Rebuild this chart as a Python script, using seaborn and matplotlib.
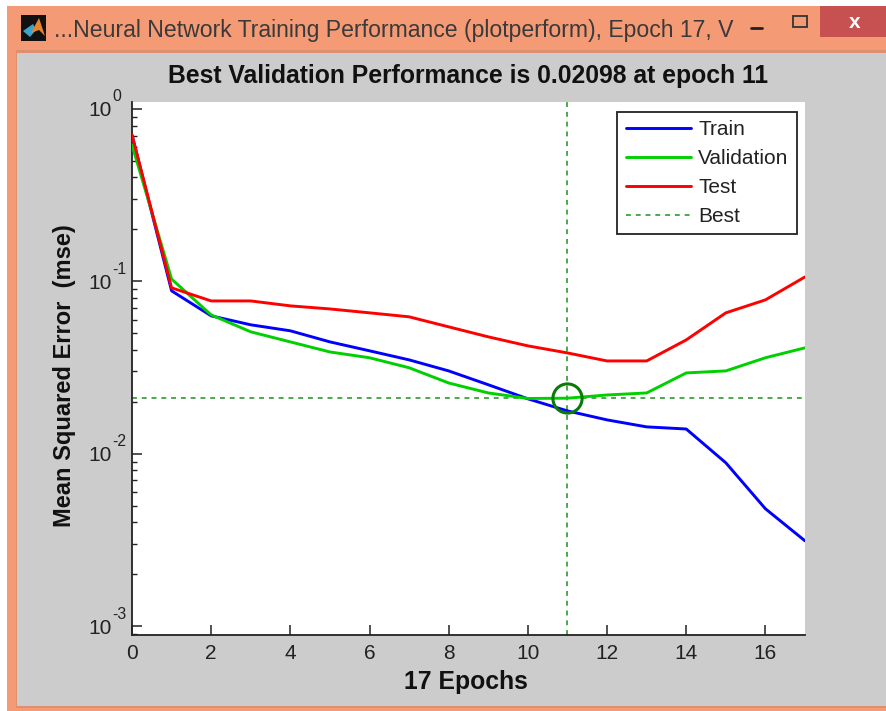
import matplotlib
matplotlib.use("Agg")
import matplotlib.pyplot as plt
from matplotlib.lines import Line2D
from matplotlib.patches import Rectangle, Polygon
from matplotlib.ticker import FixedLocator, LogLocator, NullFormatter
import pandas as pd
import seaborn as sns

epochs = list(range(18))
train = [0.706, 0.088, 0.063, 0.0559, 0.0516, 0.0445, 0.0395, 0.035, 0.0302, 0.0251,
         0.0208, 0.0177, 0.0157, 0.0143, 0.0139, 0.00885, 0.00479, 0.00312]
validation = [0.618, 0.103, 0.0638, 0.0509, 0.0445, 0.0389, 0.036, 0.0315, 0.0257, 0.0225,
              0.0209, 0.02098, 0.0219, 0.0225, 0.0294, 0.0302, 0.036, 0.0411]
test = [0.706, 0.0916, 0.0769, 0.0769, 0.072, 0.0691, 0.0656, 0.0622, 0.0544, 0.0476,
        0.0422, 0.0384, 0.0345, 0.0345, 0.0457, 0.0656, 0.078, 0.106]
best_epoch = 11
best_value = 0.02098
x_ticks = [0, 2, 4, 6, 8, 10, 12, 14, 16]
y_ticks = [1e-3, 1e-2, 1e-1, 1e0]
y_exponents = ["-3", "-2", "-1", "0"]

W, H = 887, 711
TEXT = "#222222"


def px_rect(x0, y0, x1, y1):
    # figure fraction box from pixel corners, y counted from the top
    return [x0 / W, 1 - y1 / H, (x1 - x0) / W, (y1 - y0) / H]


def add_box(fig, x0, y0, x1, y1, color, z=0):
    l, b, w, h = px_rect(x0, y0, x1, y1)
    fig.add_artist(Rectangle((l, b), w, h, transform=fig.transFigure,
                             facecolor=color, edgecolor="none", zorder=z))


def add_poly(fig, pts, color):
    fig.add_artist(Polygon([(x / W, 1 - y / H) for x, y in pts], transform=fig.transFigure,
                           facecolor=color, edgecolor="none", zorder=-1))


sns.set_theme(style="white")
plt.rcParams["font.family"] = ["Liberation Sans", "DejaVu Sans"]

fig = plt.figure(figsize=(W / 100, H / 100), dpi=100, facecolor="white")

# window frame
add_box(fig, 7, 6, 887, 711, "#f49a75", -5)
add_box(fig, 16, 50, 887, 708, "#de8f70", -4)
add_box(fig, 17, 53, 887, 706, "#cccccc", -3)
add_box(fig, 820, 6, 887, 37, "#c75050", -2)
fig.text(855 / W, 1 - 22 / H, "x", color="white", fontsize=15, ha="center", va="center",
         fontweight="bold")
fig.text(54 / W, 1 - 30 / H, "...Neural Network Training Performance (plotperform), Epoch 17, V",
         color="#3a3a3a", fontsize=16.6, ha="left", va="center")

# icon and title bar buttons
add_box(fig, 21, 15, 46, 41, "#111111", -2)
add_poly(fig, [(23, 31), (33, 24), (36, 30), (30, 37)], "#3aa6d0")
add_poly(fig, [(31, 33), (39, 18), (45, 36), (39, 30)], "#e8842c")
fig.add_artist(Line2D([751 / W, 762 / W], [1 - 28 / H, 1 - 28 / H], color="#222222", lw=2))
fig.add_artist(Rectangle((793 / W, 1 - 27 / H), 14 / W, 11 / H, transform=fig.transFigure,
                         facecolor="none", edgecolor="#333333", lw=1.3))

ax = fig.add_axes(px_rect(132, 102, 805, 635))
ax.set_facecolor("white")

perf = pd.DataFrame({"Epoch": epochs * 3,
                     "mse": train + validation + test,
                     "Split": ["Train"] * 18 + ["Validation"] * 18 + ["Test"] * 18})
sns.lineplot(data=perf, x="Epoch", y="mse", hue="Split",
             palette={"Train": "#0000ff", "Validation": "#00d000", "Test": "#ff0000"},
             linewidth=2.1, ax=ax, legend=False, zorder=3)

ax.set_yscale("log")
ax.set_xlim(0, 17)
ax.set_ylim(10 ** -3.052, 10 ** 0.04)

best_color = "#1d8f1d"
ax.axhline(best_value, color=best_color, lw=1.1, ls=(0, (3.2, 3.2)), zorder=2)
ax.axvline(best_epoch, color=best_color, lw=1.1, ls=(0, (3.2, 3.2)), zorder=2)
ax.plot([best_epoch], [best_value], marker="o", ms=21, mfc="none", mec="#0b7a0b", mew=2.2,
        zorder=4, clip_on=False)

ax.xaxis.set_major_locator(FixedLocator(x_ticks))
ax.set_xticklabels([str(t) for t in x_ticks])
ax.yaxis.set_major_locator(FixedLocator(y_ticks))
ax.set_yticklabels(["10"] * len(y_ticks))
ax.yaxis.set_minor_locator(LogLocator(base=10, subs=range(2, 10)))
ax.yaxis.set_minor_formatter(NullFormatter())

ax.tick_params(axis="both", which="major", direction="in", length=7, width=1.1, color=TEXT,
               labelsize=15, labelcolor=TEXT, left=True, bottom=True)
ax.tick_params(axis="x", which="major", pad=6.5)
ax.tick_params(axis="y", which="major", pad=14.4)
ax.tick_params(axis="y", which="minor", direction="in", length=3.5, width=1, color=TEXT, left=True)

# exponents stand higher than mathtext would put them
for tick, exponent in zip(y_ticks, y_exponents):
    ax.annotate(exponent, xy=(0, tick), xycoords=ax.get_yaxis_transform(), xytext=(-14.4, 8.6),
                textcoords="offset points", fontsize=11.3, color=TEXT, ha="left", va="center",
                annotation_clip=False)

for side in ["top", "right"]:
    ax.spines[side].set_visible(False)
for side in ["left", "bottom"]:
    ax.spines[side].set_color(TEXT)
    ax.spines[side].set_linewidth(1.3)

ax.set_xlabel("17 Epochs", fontsize=17.8, fontweight="bold", color="#111111", va="center")
ax.xaxis.set_label_coords(0.496, -0.0885)
ax.set_ylabel("Mean Squared Error  (mse)", fontsize=17, fontweight="bold", color="#111111", va="center")
ax.yaxis.set_label_coords(-0.0996, 0.487)
ax.set_title("Best Validation Performance is 0.02098 at epoch 11", fontsize=17.85, fontweight="bold",
             color="#111111", pad=14)

handles = [Line2D([], [], color="#0000ff", lw=2.1, label="Train"),
           Line2D([], [], color="#00d000", lw=2.1, label="Validation"),
           Line2D([], [], color="#ff0000", lw=2.1, label="Test"),
           Line2D([], [], color=best_color, lw=1.1, ls=(0, (3.2, 3.2)), label="Best")]
leg = ax.legend(handles=handles, loc="upper right", bbox_to_anchor=(0.988, 0.981), borderaxespad=0,
                fontsize=15, frameon=True, fancybox=False, framealpha=1, edgecolor=TEXT,
                handlelength=3.15, labelspacing=0.47, borderpad=0.4, handletextpad=0.34)
leg.get_frame().set_linewidth(1.3)
for txt in leg.get_texts():
    txt.set_color(TEXT)

fig.savefig("out.png", dpi=100, facecolor=fig.get_facecolor())
